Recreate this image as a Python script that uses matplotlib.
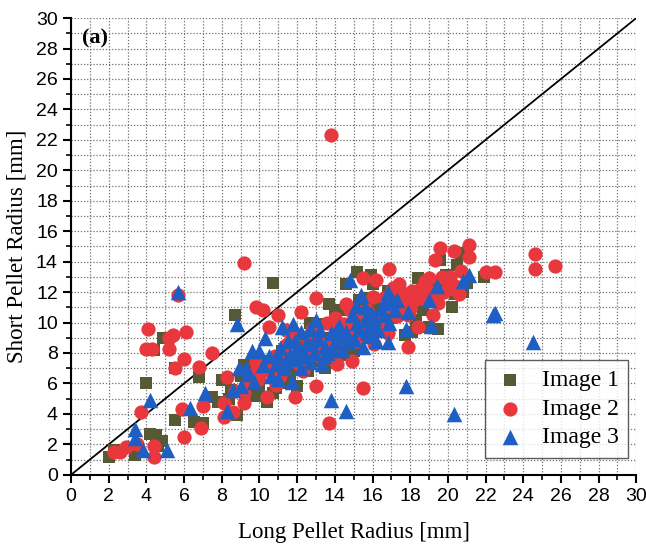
import matplotlib.pyplot as plt
from matplotlib.ticker import MultipleLocator

# Image 1 (squares)
img1_x = [2.0, 2.3, 2.5, 3.4, 3.5, 4.2, 4.5, 4.8, 4.6, 4.0, 4.4, 4.9, 5.5, 5.5, 6.5, 7.0, 6.8, 7.5,
          7.8, 8.0, 8.8, 8.7, 8.4, 9.0, 9.3, 9.8, 10.4, 10.7, 10.9, 10.2, 10.7, 11.0, 11.4, 11.8,
          12.0, 12.3, 12.6, 12.9, 13.2, 13.3, 13.7, 13.9, 14.2, 14.6, 14.5, 15.0, 15.2, 15.4, 15.7,
          15.9, 16.0, 16.2, 16.5, 16.8, 17.0, 17.3, 17.7, 17.9, 18.0, 18.1, 18.4, 18.7, 19.0, 19.2,
          19.5, 19.6, 19.8, 20.2, 20.4, 20.5, 20.7, 21.0, 21.9, 11.6, 9.6, 14.0, 12.7,
          8.5, 9.2, 9.9, 10.5, 11.2, 11.9, 12.4, 13.0, 13.6, 14.3, 14.8, 15.3, 15.8, 16.3, 16.9,
          17.4, 18.3, 18.9, 19.3, 19.9, 20.8, 13.5, 11.3, 10.0, 9.5]
img1_y = [1.2, 1.6, 1.5, 1.3, 1.5, 2.7, 2.6, 2.2, 1.9, 6.0, 8.2, 9.0, 7.0, 3.6, 3.5, 3.4, 6.4, 5.1,
          4.8, 6.2, 3.9, 10.5, 5.0, 6.5, 5.9, 5.2, 4.8, 5.4, 5.7, 7.5, 12.6, 6.6, 7.2, 8.8,
          5.8, 7.9, 6.8, 9.6, 7.5, 9.9, 11.2, 8.6, 9.3, 12.5, 7.9, 8.1, 13.3, 10.4, 9.0,
          13.1, 12.5, 11.0, 9.7, 12.1, 10.3, 11.8, 9.2, 11.1, 11.8, 9.4, 12.9, 10.8, 9.7, 11.7,
          9.6, 14.1, 12.5, 11.0, 11.9, 13.8, 14.6, 12.6, 13.0, 6.3, 6.9, 10.4, 10.0,
          5.6, 7.2, 6.2, 6.8, 8.1, 7.0, 8.6, 8.2, 9.0, 10.8, 9.2, 11.5, 11.6, 10.2, 11.2,
          10.6, 10.2, 11.4, 12.6, 13.1, 12.0, 7.0, 6.0, 5.6, 6.2]

# Image 2 (circles)
img2_x = [2.3, 2.6, 2.9, 3.5, 4.4, 4.4, 3.7, 4.1, 4.0, 4.3, 5.2, 5.2, 5.4, 6.1, 6.0, 5.5, 6.8, 7.5,
          5.7, 6.0, 6.9, 7.0, 5.9, 8.1, 8.1, 8.3, 8.6, 9.2, 9.2, 9.2, 9.4, 9.8, 9.8, 10.2, 10.0,
          10.4, 10.5, 10.3, 10.8, 11.0, 11.1, 11.4, 11.7, 11.9, 12.0, 12.2, 12.3, 12.5, 12.8, 13.0,
          13.0, 13.2, 13.5, 13.7, 13.8, 13.9, 14.0, 14.1, 14.3, 14.6, 14.9, 15.0, 15.2, 15.5, 15.5,
          15.7, 16.0, 16.2, 16.1, 16.4, 16.9, 16.8, 17.1, 17.3, 17.4, 17.6, 17.9, 17.9, 18.2, 18.5,
          18.4, 18.8, 19.0, 19.2, 19.3, 19.6, 19.5, 19.8, 20.1, 20.3, 20.4, 20.6, 20.7, 21.1, 21.1,
          22.0, 22.5, 24.6, 24.6, 25.7, 12.7, 11.4, 13.6, 15.8,
          8.7, 9.6, 10.6, 11.2, 11.7, 12.1, 12.6, 13.1, 13.4, 14.2, 14.5, 15.1, 15.4, 16.6, 17.0,
          17.7, 18.1, 18.6, 19.1, 19.7, 20.0, 10.9, 14.8, 16.5, 18.0]
img2_y = [1.5, 1.5, 1.8, 2.0, 1.9, 1.2, 4.1, 9.6, 8.25, 8.25, 8.25, 9.0, 9.2, 9.4, 7.6, 7.0, 7.1, 8.0,
          11.8, 2.5, 3.1, 4.5, 4.3, 3.8, 4.7, 6.4, 4.1, 4.7, 5.4, 13.9, 6.0, 11.0, 7.4, 10.8, 6.3,
          5.1, 9.7, 6.9, 7.8, 10.5, 6.5, 8.5, 7.7, 5.1, 9.2, 10.7, 6.8, 8.0, 9.5, 11.6,
          5.8, 7.8, 8.8, 3.4, 22.3, 7.6, 10.3, 7.3, 9.7, 11.2, 7.5, 10.0, 8.8, 12.9, 5.7,
          10.8, 11.7, 12.8, 8.6, 10.4, 13.5, 9.3, 12.3, 10.4, 12.5, 11.2, 8.4, 10.5, 11.5, 12.2,
          9.7, 12.7, 12.9, 10.5, 14.1, 14.9, 11.3, 12.0, 13.0, 14.7, 12.4, 11.9, 13.4, 15.1, 14.3,
          13.3, 13.3, 14.5, 13.5, 13.7, 9.2, 9.5, 10.0, 9.6,
          5.5, 6.6, 7.2, 7.4, 8.9, 7.3, 8.5, 9.1, 8.2, 8.6, 9.9, 9.4, 10.7, 11.6, 11.0,
          11.9, 12.1, 11.6, 12.0, 13.0, 12.2, 5.9, 10.8, 9.8, 10.9]

# Image 3 (triangles)
img3_x = [3.4, 3.4, 3.8, 5.1, 4.2, 5.7, 6.3, 7.1, 8.3, 8.6, 8.8, 8.9, 9.0, 9.3, 9.6, 9.7, 10.0, 10.3,
          10.6, 10.9, 11.0, 11.1, 11.2, 11.4, 11.5, 11.7, 11.8, 11.9, 12.0, 12.2, 12.2, 12.4, 12.5,
          12.7, 12.9, 13.0, 13.1, 13.3, 13.5, 13.8, 13.8, 14.0, 14.2, 14.4, 14.6, 14.6, 14.8, 14.9,
          15.0, 15.1, 15.3, 15.4, 15.5, 15.6, 15.8, 15.9, 16.0, 16.2, 16.4, 16.6, 16.8, 16.9, 16.8,
          17.2, 17.3, 17.8, 17.8, 17.9, 19.0, 19.1, 19.4, 20.3, 20.8, 21.1, 22.4, 22.5, 24.5,
          10.2, 11.6, 12.7,
          9.4, 10.5, 11.3, 11.9, 12.3, 12.8, 13.2, 13.6, 13.9, 14.3, 14.7, 15.2, 15.7, 16.1, 16.3,
          16.6, 17.0, 13.4, 12.1, 11.0, 15.6, 14.1]
img3_y = [3.0, 2.4, 1.6, 1.6, 4.9, 12.0, 4.4, 5.4, 4.2, 5.6, 9.9, 7.0, 5.8, 7.0, 8.1, 6.1, 8.1, 9.0,
          6.5, 7.3, 6.3, 8.3, 9.7, 7.5, 8.8, 6.1, 9.9, 7.6, 8.4, 7.0, 9.4, 7.8, 8.7,
          9.6, 8.0, 10.2, 8.9, 7.3, 8.4, 4.9, 9.3, 8.7, 9.8, 8.2, 4.2, 9.4, 12.8, 10.5,
          8.9, 11.1, 9.6, 11.8, 8.4, 10.2, 9.1, 10.6, 9.8, 8.8, 10.9, 11.3, 12.0, 10.0, 8.7,
          10.8, 11.5, 5.8, 9.6, 10.7, 11.5, 9.8, 12.4, 4.0, 12.7, 13.1, 10.5, 10.6, 8.7,
          7.2, 7.9, 7.4,
          6.6, 7.8, 7.0, 8.8, 8.1, 8.6, 9.5, 8.0, 8.2, 9.1, 8.7, 10.0, 9.4, 10.3, 9.5,
          10.5, 11.4, 7.8, 7.8, 7.8, 11.0, 9.6]

fig = plt.figure(figsize=(6.46, 5.47), dpi=100)
ax = fig.add_axes([0.110, 0.132, 0.875, 0.835])

ax.plot([0, 30], [0, 30], color='black', lw=1.3, zorder=2)
ax.scatter(img1_x, img1_y, marker='s', s=85, color='#575935', label='Image 1', zorder=3, linewidths=0)
ax.scatter(img2_x, img2_y, marker='o', s=105, color='#e8383d', label='Image 2', zorder=4, linewidths=0)
ax.scatter(img3_x, img3_y, marker='^', s=125, color='#1f5fc4', label='Image 3', zorder=5, linewidths=0)

ax.set_xlim(0, 30)
ax.set_ylim(0, 30)
ax.xaxis.set_major_locator(MultipleLocator(2))
ax.yaxis.set_major_locator(MultipleLocator(2))
ax.xaxis.set_minor_locator(MultipleLocator(1))
ax.yaxis.set_minor_locator(MultipleLocator(1))
ax.grid(which='both', color='#707070', linestyle=(0, (1, 1.5)), linewidth=0.9, zorder=0)
ax.set_axisbelow(True)
ax.spines['top'].set_visible(False)
ax.spines['right'].set_visible(False)
ax.spines['left'].set_linewidth(1.5)
ax.spines['bottom'].set_linewidth(1.5)
ax.tick_params(which='major', direction='out', length=6, width=1.5, labelsize=14)
ax.tick_params(which='minor', direction='out', length=3.5, width=1.2)
for lab in ax.get_xticklabels() + ax.get_yticklabels():
    lab.set_family('Liberation Sans')

ax.set_xlabel('Long Pellet Radius [mm]', family='Liberation Serif', fontsize=16.5, labelpad=12)
ax.set_ylabel('Short Pellet Radius [mm]', family='Liberation Serif', fontsize=16.5, labelpad=6)
ax.text(0.02, 0.955, '(a)', transform=ax.transAxes, family='Liberation Serif',
        fontsize=16, fontweight='bold', va='center')

leg = ax.legend(loc='lower right', bbox_to_anchor=(0.986, 0.037), borderaxespad=0,
                prop={'family': 'Liberation Serif', 'size': 17}, frameon=True, fancybox=False,
                borderpad=0.4, labelspacing=0.3, handlelength=1.3, handletextpad=0.7,
                markerscale=1.0)
leg.get_frame().set_edgecolor('#333333')
leg.get_frame().set_linewidth(1.0)

plt.savefig('out.png', dpi=100)
